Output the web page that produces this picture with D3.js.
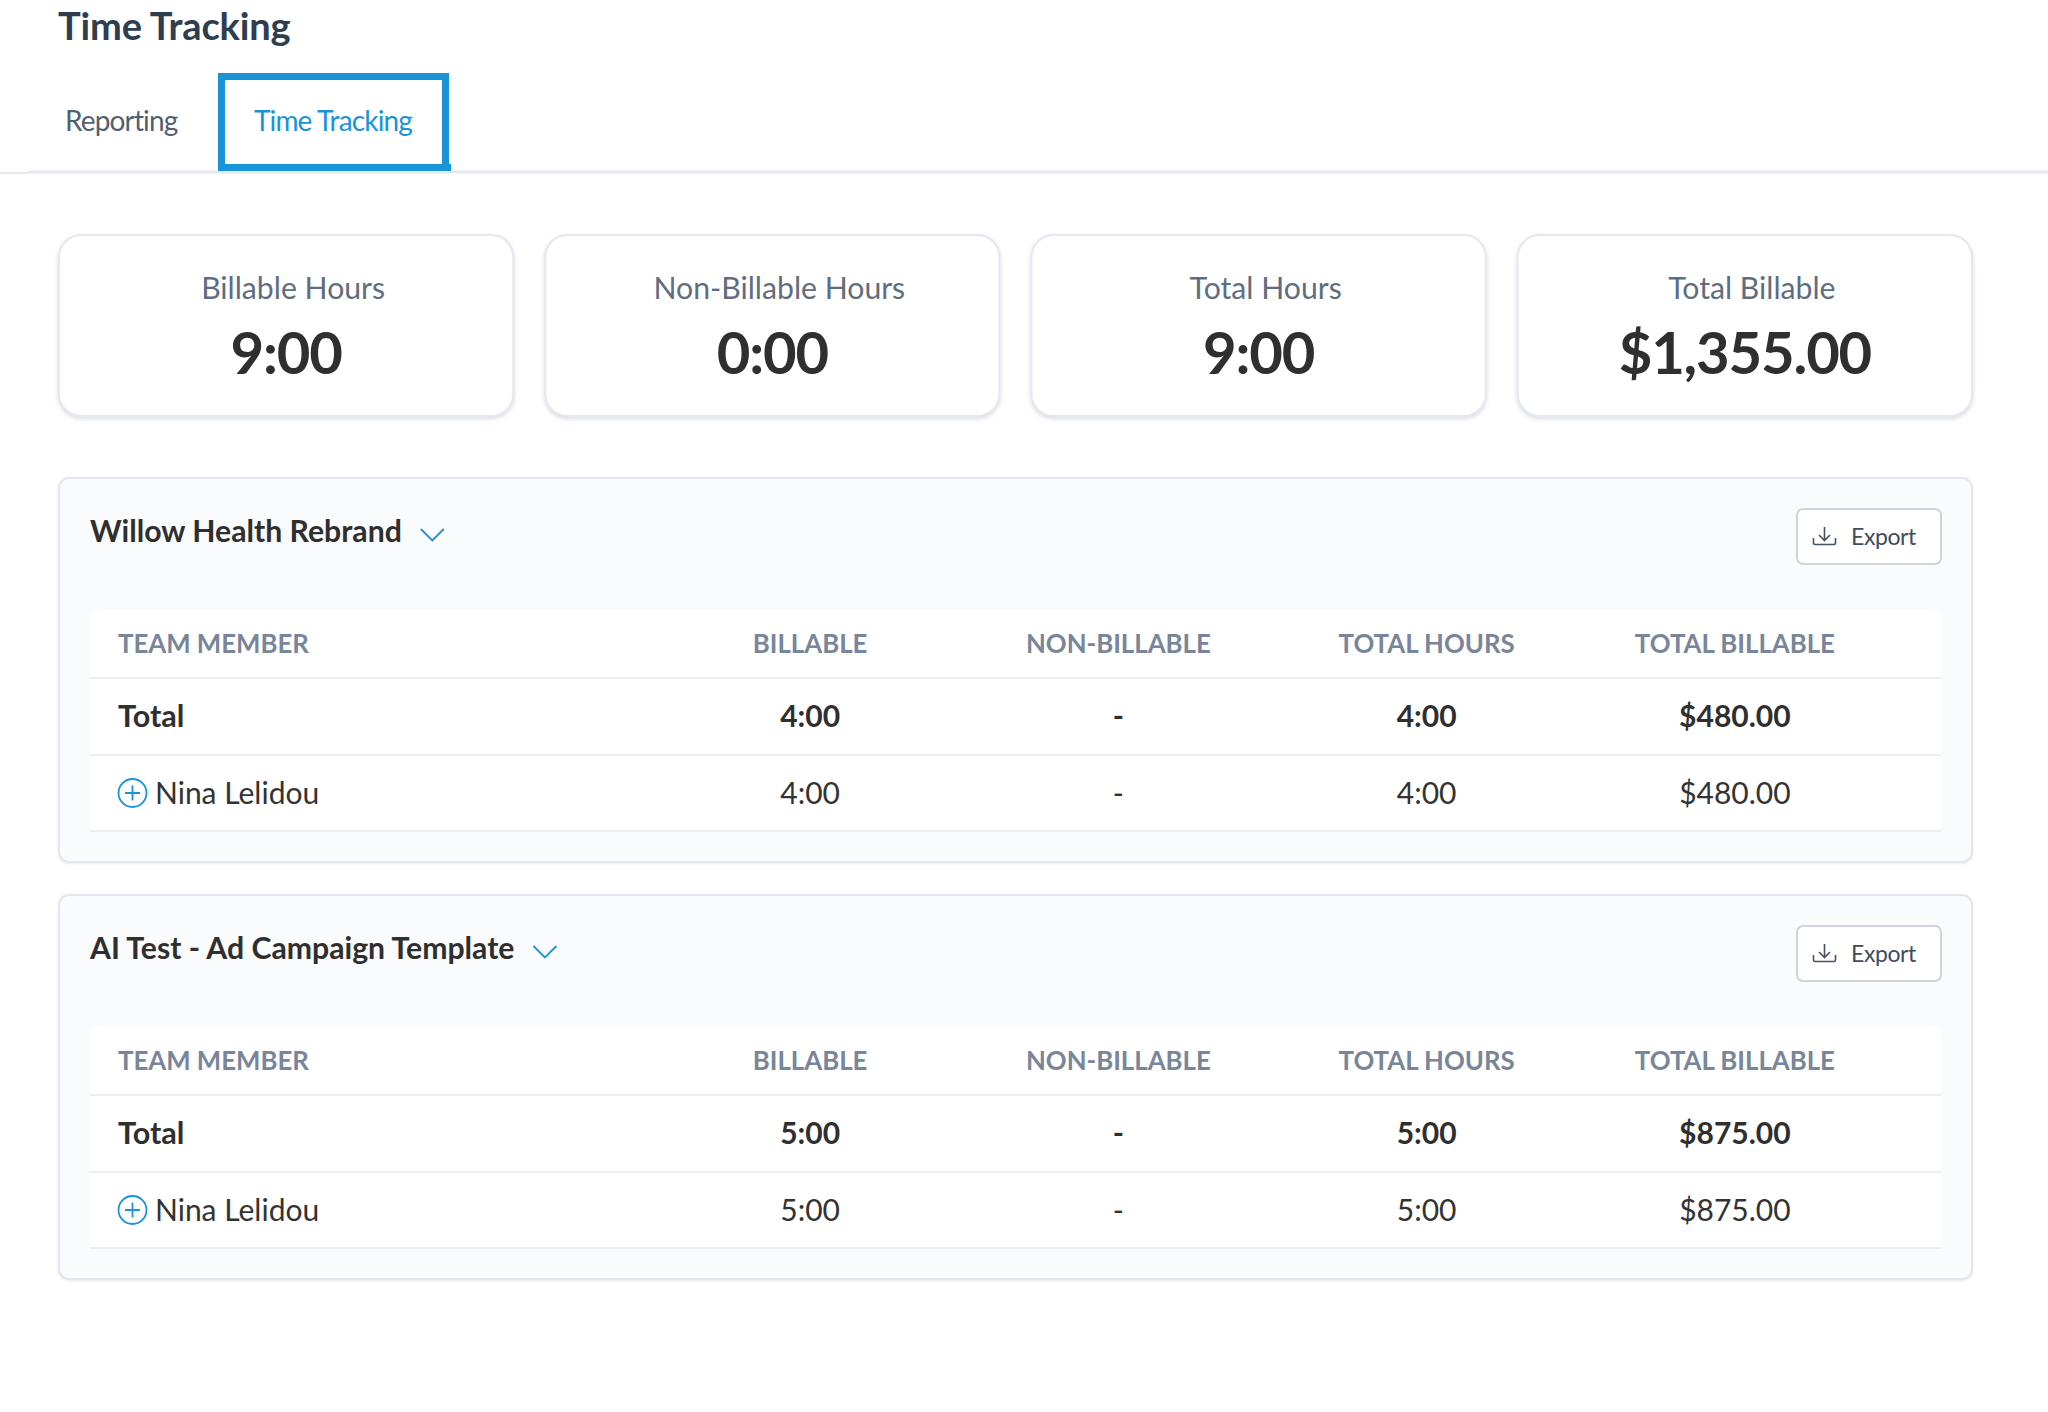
<!DOCTYPE html>
<html>
<head>
<meta charset="utf-8">
<script src="https://cdn.jsdelivr.net/npm/d3@7"></script>
<style>
  html, body { margin: 0; padding: 0; background: #fff; }
  svg { display: block; font-family: Lato, sans-serif; }
</style>
</head>
<body>
<div id="chart"></div>
<script>
const pageTitle = 'Time Tracking';
const tabs = ['Reporting', 'Time Tracking'];

const cardLabels = ['Billable Hours', 'Non-Billable Hours', 'Total Hours', 'Total Billable'];
const cardValues = ['9:00', '0:00', '9:00', '$1,355.00'];

const projects = ['Willow Health Rebrand', 'AI Test - Ad Campaign Template'];
const columns = ['BILLABLE', 'NON-BILLABLE', 'TOTAL HOURS', 'TOTAL BILLABLE'];
const memberHeader = 'TEAM MEMBER';
const memberName = 'Nina Lelidou';
const totalValues = [
    ['4:00', '-', '4:00', '$480.00'],
    ['5:00', '-', '5:00', '$875.00']
];
const memberValues = [
    ['4:00', '-', '4:00', '$480.00'],
    ['5:00', '-', '5:00', '$875.00']
];

const w = 2048;
const h = 1412;

const svg = d3.select('#chart')
    .append('svg')
    .attr('width', w)
    .attr('height', h);

const defs = svg.append('defs');
const shadow = defs.append('filter')
    .attr('id', 'card-shadow')
    .attr('x', '-5%').attr('y', '-5%')
    .attr('width', '110%').attr('height', '115%');
shadow.append('feDropShadow')
    .attr('dx', 0).attr('dy', 2).attr('stdDeviation', 2)
    .attr('flood-color', '#c9cddb').attr('flood-opacity', 0.7);
const panelShadow = defs.append('filter')
    .attr('id', 'panel-shadow')
    .attr('x', '-2%').attr('y', '-2%')
    .attr('width', '104%').attr('height', '105%');
panelShadow.append('feDropShadow')
    .attr('dx', 0).attr('dy', 1).attr('stdDeviation', 1)
    .attr('flood-color', '#d5d8e3').attr('flood-opacity', 0.5);

// header
svg.append('text')
    .attr('x', 58).attr('y', 40)
    .attr('font-size', 38).attr('font-weight', 700)
    .attr('letter-spacing', -0.15)
    .attr('fill', '#2e3d4f')
    .text(pageTitle);

svg.append('rect')
    .attr('x', 0).attr('y', 172).attr('width', 28).attr('height', 2)
    .attr('fill', '#e8eaf0');
svg.append('rect')
    .attr('x', 28).attr('y', 170.5).attr('width', w - 28).attr('height', 3)
    .attr('fill', '#e6e8ef');

svg.append('text')
    .attr('x', 65).attr('y', 131)
    .attr('font-size', 28)
    .attr('letter-spacing', -0.85)
    .attr('fill', '#525f70')
    .text(tabs[0]);

svg.append('rect')
    .attr('x', 221.5).attr('y', 76.5).attr('width', 224).attr('height', 91)
    .attr('fill', '#fff').attr('stroke', '#1a94d8').attr('stroke-width', 7);
svg.append('rect')
    .attr('x', 218).attr('y', 164).attr('width', 233).attr('height', 7)
    .attr('fill', '#1a94d8');
svg.append('text')
    .attr('x', 333).attr('y', 131)
    .attr('text-anchor', 'middle')
    .attr('font-size', 28)
    .attr('letter-spacing', -0.85)
    .attr('fill', '#1a94d8')
    .text(tabs[1]);

// summary cards
const cardX = d3.scaleBand()
    .domain(cardLabels)
    .range([59, 1972])
    .paddingInner(32 / 486)
    .paddingOuter(0);
const cardW = cardX.bandwidth();

const cards = svg.selectAll('g.card')
    .data(cardLabels)
    .enter()
    .append('g')
    .attr('class', 'card')
    .attr('transform', d => `translate(${cardX(d)},235)`);

cards.append('rect')
    .attr('width', cardW).attr('height', 181).attr('rx', 22)
    .attr('fill', '#fff').attr('stroke', '#e6e8f0').attr('stroke-width', 2)
    .attr('filter', 'url(#card-shadow)');
cards.append('text')
    .attr('x', cardW / 2 + 7).attr('y', 64)
    .attr('text-anchor', 'middle')
    .attr('font-size', 30.2)
    .attr('fill', '#5f6d80')
    .text(d => d);
cards.append('text')
    .attr('x', cardW / 2).attr('y', 139)
    .attr('text-anchor', 'middle')
    .attr('font-size', 58).attr('font-weight', 700)
    .attr('letter-spacing', -1.15)
    .attr('fill', '#2f2f2f')
    .text((d, i) => cardValues[i]);

// project panels
const colX = d3.scaleBand()
    .domain(columns)
    .range([656, 1889])
    .paddingInner(0)
    .paddingOuter(0);

const panels = svg.selectAll('g.panel')
    .data(projects)
    .enter()
    .append('g')
    .attr('class', 'panel')
    .attr('transform', (d, i) => `translate(0,${i * 417})`);

panels.each(function(project, p) {
    const panel = d3.select(this);

    panel.append('rect')
        .attr('x', 59).attr('y', 478).attr('width', 1913).attr('height', 384).attr('rx', 10)
        .attr('fill', '#fafbfd').attr('stroke', '#e4e7ef').attr('stroke-width', 2)
        .attr('filter', 'url(#panel-shadow)');

    const title = panel.append('text')
        .attr('x', 90).attr('y', 542)
        .attr('font-size', 30.2).attr('font-weight', 700)
        .attr('fill', '#2f2f2f')
        .text(project);
    const titleEnd = 90 + title.node().getComputedTextLength();

    panel.append('path')
        .attr('d', `M${titleEnd + 19},529 l11.5,11.5 l11.5,-11.5`)
        .attr('fill', 'none').attr('stroke', '#1a94d8').attr('stroke-width', 1.8);

    // export button
    panel.append('rect')
        .attr('x', 1797).attr('y', 509).attr('width', 144).attr('height', 55).attr('rx', 6)
        .attr('fill', '#fff').attr('stroke', '#ced3de').attr('stroke-width', 2);
    panel.append('path')
        .attr('d', 'M1813.5,538 v5 q0,1.5 1.5,1.5 h19 q1.5,0 1.5,-1.5 v-5 M1824.5,527 v13 M1819,535 l5.5,5.5 l5.5,-5.5')
        .attr('fill', 'none').attr('stroke', '#465364').attr('stroke-width', 1.6);
    panel.append('text')
        .attr('x', 1851).attr('y', 545)
        .attr('font-size', 23)
        .attr('letter-spacing', -0.4)
        .attr('fill', '#3f4c5c')
        .text('Export');

    // table
    panel.append('path')
        .attr('d', 'M90,831 V620 q0,-10 10,-10 H1931 q10,0 10,10 V831 Z')
        .attr('fill', '#fff');
    [678, 755, 831].forEach(y => {
        panel.append('line')
            .attr('x1', 90).attr('x2', 1941).attr('y1', y).attr('y2', y)
            .attr('stroke', '#eceef2').attr('stroke-width', 2);
    });

    panel.append('text')
        .attr('x', 118).attr('y', 653)
        .attr('font-size', 25.8).attr('font-weight', 700)
        .attr('fill', '#78859a')
        .text(memberHeader);
    panel.selectAll('text.col-head')
        .data(columns)
        .enter()
        .append('text')
        .attr('class', 'col-head')
        .attr('x', d => colX(d) + colX.bandwidth() / 2).attr('y', 653)
        .attr('text-anchor', 'middle')
        .attr('font-size', 25.8).attr('font-weight', 700)
        .attr('fill', '#78859a')
        .text(d => d);

    panel.append('text')
        .attr('x', 118).attr('y', 727)
        .attr('font-size', 30.6).attr('font-weight', 700)
        .attr('fill', '#2f2f2f')
        .text('Total');
    panel.selectAll('text.total')
        .data(totalValues[p])
        .enter()
        .append('text')
        .attr('class', 'total')
        .attr('x', (d, i) => colX(columns[i]) + colX.bandwidth() / 2).attr('y', 727)
        .attr('text-anchor', 'middle')
        .attr('font-size', 30).attr('font-weight', 700)
        .attr('fill', '#2f2f2f')
        .text(d => d);

    panel.append('circle')
        .attr('cx', 132.5).attr('cy', 793).attr('r', 14)
        .attr('fill', 'none').attr('stroke', '#1a94d8').attr('stroke-width', 1.8);
    panel.append('path')
        .attr('d', 'M125,793 h15 M132.5,785.5 v15')
        .attr('fill', 'none').attr('stroke', '#1a94d8').attr('stroke-width', 1.8);
    panel.append('text')
        .attr('x', 155).attr('y', 804)
        .attr('font-size', 30)
        .attr('fill', '#333')
        .text(memberName);
    panel.selectAll('text.member')
        .data(memberValues[p])
        .enter()
        .append('text')
        .attr('class', 'member')
        .attr('x', (d, i) => colX(columns[i]) + colX.bandwidth() / 2).attr('y', 804)
        .attr('text-anchor', 'middle')
        .attr('font-size', 30)
        .attr('fill', '#333')
        .text(d => d);
});
</script>
</body>
</html>
